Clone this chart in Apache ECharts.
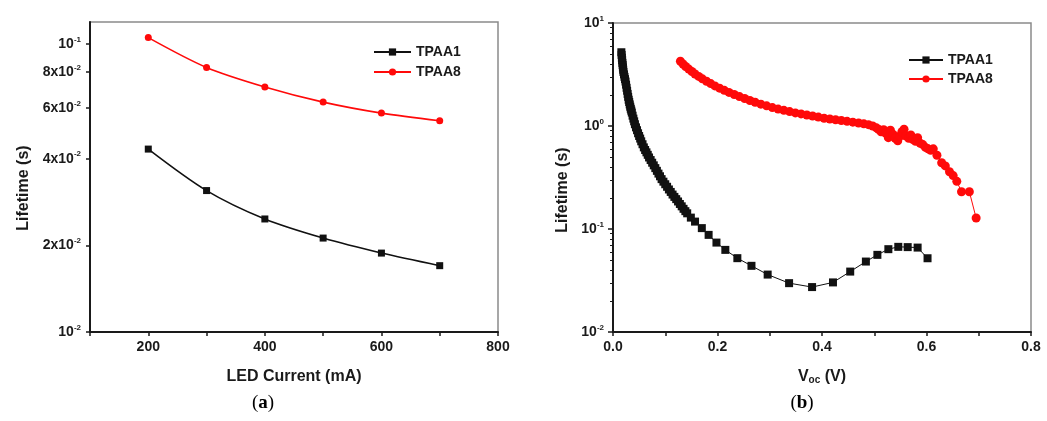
<!DOCTYPE html>
<html>
<head>
<meta charset="utf-8">
<script src="https://cdn.jsdelivr.net/npm/echarts@6/dist/echarts.min.js"></script>
<style>
html, body { margin: 0; padding: 0; background: #fff; }
#chart { width: 1047px; height: 421px; }
</style>
</head>
<body>
<div id="chart"></div>
<script>
// Panel (a): carrier lifetime versus LED drive current
const ledCurrent = [200, 300, 400, 500, 600, 700];
const tpaa1Led = [0.0432, 0.0310, 0.0247, 0.0212, 0.0188, 0.0170];
const tpaa8Led = [0.1054, 0.0830, 0.0710, 0.0629, 0.0576, 0.0542];

// Panel (b): lifetime versus open-circuit voltage
const tpaa1Voc = [0.016, 0.0165, 0.017, 0.0175, 0.018, 0.0185, 0.019, 0.0195, 0.020, 0.021,
  0.022, 0.023, 0.024, 0.025, 0.026, 0.027, 0.028, 0.029, 0.030, 0.031,
  0.032, 0.033, 0.034, 0.035, 0.036, 0.0375, 0.039, 0.0405, 0.042, 0.044,
  0.046, 0.048, 0.050, 0.052, 0.054, 0.0565, 0.059, 0.0615, 0.064, 0.0665,
  0.069, 0.072, 0.075, 0.078, 0.081, 0.084, 0.087, 0.090, 0.093, 0.0965,
  0.100, 0.1035, 0.107, 0.1105, 0.114, 0.1175, 0.121, 0.1245, 0.128, 0.1315,
  0.135, 0.1385, 0.142, 0.149, 0.157, 0.170, 0.183, 0.198, 0.215, 0.238,
  0.265, 0.296, 0.337, 0.381, 0.421, 0.454, 0.484, 0.506, 0.527, 0.546,
  0.564, 0.583, 0.602];
const tpaa1Life = [5.2, 4.9, 4.6, 4.35, 4.1, 3.9, 3.7, 3.52, 3.35, 3.17,
  3.0, 2.85, 2.7, 2.52, 2.35, 2.2, 2.05, 1.92, 1.8, 1.71,
  1.62, 1.54, 1.47, 1.41, 1.35, 1.26, 1.18, 1.11, 1.04, 0.97,
  0.91, 0.85, 0.80, 0.755, 0.71, 0.665, 0.62, 0.585, 0.555, 0.525,
  0.495, 0.467, 0.44, 0.415, 0.39, 0.367, 0.345, 0.325, 0.305, 0.288,
  0.272, 0.257, 0.242, 0.229, 0.216, 0.205, 0.195, 0.185, 0.175, 0.166,
  0.157, 0.149, 0.142, 0.129, 0.118, 0.102, 0.0877, 0.0738, 0.0627, 0.0521,
  0.0439, 0.0361, 0.0298, 0.0273, 0.0303, 0.0386, 0.0483, 0.0561, 0.0637, 0.0671,
  0.0667, 0.066, 0.052];

const tpaa8Voc = [0.129, 0.134, 0.139, 0.145, 0.151, 0.157, 0.164, 0.171, 0.179, 0.187,
  0.195, 0.204, 0.213, 0.222, 0.232, 0.242, 0.252, 0.262, 0.272, 0.283,
  0.294, 0.305, 0.316, 0.327, 0.338, 0.349, 0.360, 0.371, 0.382, 0.393,
  0.404, 0.415, 0.426, 0.437, 0.448, 0.459, 0.470, 0.480, 0.489, 0.497,
  0.504, 0.508, 0.513, 0.518, 0.522, 0.527, 0.531, 0.536, 0.540, 0.545,
  0.549, 0.553, 0.557, 0.561, 0.566, 0.570, 0.574, 0.579, 0.583, 0.588,
  0.593, 0.598, 0.603, 0.608, 0.613, 0.620, 0.629, 0.636, 0.644, 0.651,
  0.658, 0.667, 0.682, 0.695];
const tpaa8Life = [4.25, 4.0, 3.78, 3.57, 3.38, 3.2, 3.03, 2.87, 2.72, 2.58,
  2.45, 2.33, 2.22, 2.12, 2.02, 1.93, 1.85, 1.77, 1.70, 1.63,
  1.57, 1.51, 1.46, 1.42, 1.38, 1.34, 1.31, 1.28, 1.25, 1.22,
  1.19, 1.17, 1.15, 1.13, 1.11, 1.09, 1.07, 1.05, 1.03, 1.00,
  0.96, 0.93, 0.88, 0.92, 0.85, 0.77, 0.91, 0.83, 0.76, 0.72,
  0.80, 0.88, 0.93, 0.80, 0.76, 0.82, 0.74, 0.71, 0.77, 0.68,
  0.66, 0.62, 0.60, 0.58, 0.60, 0.52, 0.44, 0.41, 0.36, 0.33,
  0.29, 0.23, 0.23, 0.128];

// Tick values and their labels (mantissa, exponent)
const leftYTicks = [0.01, 0.02, 0.04, 0.06, 0.08, 0.1];
const leftYTickLabels = [['10', '-2'], ['2x10', '-2'], ['4x10', '-2'], ['6x10', '-2'], ['8x10', '-2'], ['10', '-1']];
const rightYTicks = [0.01, 0.1, 1, 10];
const rightYTickLabels = [['10', '-2'], ['10', '-1'], ['10', '0'], ['10', '1']];
const leftXLabels = [200, 400, 600, 800];
const rightXLabels = ['0.0', '0.2', '0.4', '0.6', '0.8'];

const FONT = 'Liberation Sans, Arial, sans-serif';
const INK = '#1a1a1a';

const rightYMinor = [];
[0.01, 0.1, 1].forEach(d => { for (let k = 2; k <= 9; k++) rightYMinor.push(+(k * d).toPrecision(3)); });

function zip(xs, ys) { return xs.map((x, i) => [x, ys[i]]); }

function powLabel(ticks, labels) {
  return v => {
    const i = ticks.findIndex(t => Math.abs(v / t - 1) < 1e-6);
    if (i < 0) return '';
    return '{b|' + labels[i][0] + '}{s|' + labels[i][1] + '}';
  };
}

const tickRich = {
  b: { fontSize: 14, fontWeight: 'bold', fontFamily: FONT, color: INK },
  s: { fontSize: 8, fontWeight: 'bold', fontFamily: FONT, color: INK, padding: [0, 0, 9, 0] }
};

const axisLine = { show: true, lineStyle: { color: INK, width: 2 } };
const tickStyle = { show: true, length: 4, lineStyle: { color: INK, width: 1.5 } };
const nameStyle = { fontSize: 16, fontWeight: 'bold', fontFamily: FONT, color: INK };
const legendText = { fontSize: 14, fontWeight: 'bold', fontFamily: FONT, color: INK };

const chart = echarts.init(document.getElementById('chart'), null, { renderer: 'canvas' });

chart.setOption({
  animation: false,
  backgroundColor: '#ffffff',
  grid: [
    { left: 90, top: 22, width: 408, height: 310, show: true, borderColor: '#8a8a8a', borderWidth: 1.5, backgroundColor: 'transparent' },
    { left: 613, top: 23, width: 418, height: 309, show: true, borderColor: '#8a8a8a', borderWidth: 1.5, backgroundColor: 'transparent' }
  ],
  xAxis: [
    {
      gridIndex: 0, type: 'value', min: 100, max: 800, interval: 100,
      name: 'LED Current (mA)', nameLocation: 'middle', nameGap: 37, nameTextStyle: nameStyle,
      axisLine: axisLine, axisTick: tickStyle, splitLine: { show: false },
      axisLabel: {
        margin: 8, fontSize: 14, fontWeight: 'bold', fontFamily: FONT, color: INK,
        formatter: v => (leftXLabels.indexOf(Math.round(v)) >= 0 ? String(Math.round(v)) : '')
      }
    },
    {
      gridIndex: 1, type: 'value', min: 0, max: 0.8, interval: 0.1,
      name: '{n|V}{sub|oc}{n| (V)}', nameLocation: 'middle', nameGap: 37,
      nameTextStyle: {
        rich: {
          n: nameStyle,
          sub: { fontSize: 10, fontWeight: 'bold', fontFamily: FONT, color: INK, padding: [6, 0, 0, 0] }
        }
      },
      axisLine: axisLine, axisTick: tickStyle, splitLine: { show: false },
      axisLabel: {
        margin: 8, fontSize: 14, fontWeight: 'bold', fontFamily: FONT, color: INK,
        formatter: v => {
          const s = v.toFixed(1);
          return rightXLabels.indexOf(s) >= 0 && Math.round(v * 10) % 2 === 0 ? s : '';
        }
      }
    }
  ],
  yAxis: [
    {
      gridIndex: 0, type: 'log', logBase: 10, min: 0.01, max: 0.1194,
      name: 'Lifetime (s)', nameLocation: 'middle', nameGap: 58,
      nameTextStyle: Object.assign({}, nameStyle, { padding: [0, 22, 0, 0] }),
      axisLine: axisLine, splitLine: { show: false }, minorTick: { show: false },
      axisTick: Object.assign({}, tickStyle, { customValues: leftYTicks }),
      axisLabel: { margin: 9, customValues: leftYTicks, formatter: powLabel(leftYTicks, leftYTickLabels), rich: tickRich }
    },
    {
      gridIndex: 1, type: 'log', logBase: 10, min: 0.01, max: 10, position: 'left',
      name: 'Lifetime (s)', nameLocation: 'middle', nameGap: 42,
      nameTextStyle: Object.assign({}, nameStyle, { padding: [0, 25, 0, 0] }),
      axisLine: axisLine, splitLine: { show: false },
      axisTick: Object.assign({}, tickStyle, { length: 5, customValues: rightYTicks }),
      axisLabel: { margin: 9, customValues: rightYTicks, formatter: powLabel(rightYTicks, rightYTickLabels), rich: tickRich }
    },
    {
      // minor decade ticks for panel (b)
      gridIndex: 1, type: 'log', logBase: 10, min: 0.01, max: 10, position: 'left',
      axisLine: { show: false }, splitLine: { show: false }, axisLabel: { show: false },
      axisTick: { show: true, length: 3, customValues: rightYMinor, lineStyle: { color: INK, width: 1 } }
    }
  ],
  legend: [
    {
      orient: 'vertical', left: 373, top: 45, padding: 0, itemWidth: 37, itemHeight: 9, itemGap: 6,
      data: ['TPAA1', 'TPAA8'], textStyle: legendText, selectedMode: false
    },
    {
      orient: 'vertical', left: 908, top: 53, padding: 0, itemWidth: 34, itemHeight: 9, itemGap: 5,
      data: ['TPAA1 ', 'TPAA8 '], textStyle: legendText, selectedMode: false
    }
  ],
  series: [
    {
      name: 'TPAA1', type: 'line', xAxisIndex: 0, yAxisIndex: 0, smooth: 0.3,
      data: zip(ledCurrent, tpaa1Led), symbol: 'rect', symbolSize: 7,
      itemStyle: { color: '#111111' }, lineStyle: { color: '#111111', width: 1.6 }
    },
    {
      name: 'TPAA8', type: 'line', xAxisIndex: 0, yAxisIndex: 0, smooth: 0.3,
      data: zip(ledCurrent, tpaa8Led), symbol: 'circle', symbolSize: 7,
      itemStyle: { color: '#ff0a0a' }, lineStyle: { color: '#ff0a0a', width: 1.6 }
    },
    {
      name: 'TPAA1 ', type: 'line', xAxisIndex: 1, yAxisIndex: 1,
      data: zip(tpaa1Voc, tpaa1Life), symbol: 'rect', symbolSize: 8,
      itemStyle: { color: '#111111' }, lineStyle: { color: '#111111', width: 1 }
    },
    {
      name: 'TPAA8 ', type: 'line', xAxisIndex: 1, yAxisIndex: 1,
      data: zip(tpaa8Voc, tpaa8Life), symbol: 'circle', symbolSize: 9,
      itemStyle: { color: '#ff0a0a' }, lineStyle: { color: '#ff0a0a', width: 1 }
    }
  ],
  graphic: [
    {
      type: 'text', x: 263, y: 403,
      style: {
        text: '{p|(}{q|a}{p|)}', align: 'center', verticalAlign: 'middle',
        rich: {
          p: { fontFamily: 'Liberation Serif, serif', fontSize: 19, fill: '#000' },
          q: { fontFamily: 'Liberation Serif, serif', fontSize: 19, fontWeight: 'bold', fill: '#000' }
        }
      }
    },
    {
      type: 'text', x: 802, y: 403,
      style: {
        text: '{p|(}{q|b}{p|)}', align: 'center', verticalAlign: 'middle',
        rich: {
          p: { fontFamily: 'Liberation Serif, serif', fontSize: 19, fill: '#000' },
          q: { fontFamily: 'Liberation Serif, serif', fontSize: 19, fontWeight: 'bold', fill: '#000' }
        }
      }
    }
  ]
});
</script>
</body>
</html>
